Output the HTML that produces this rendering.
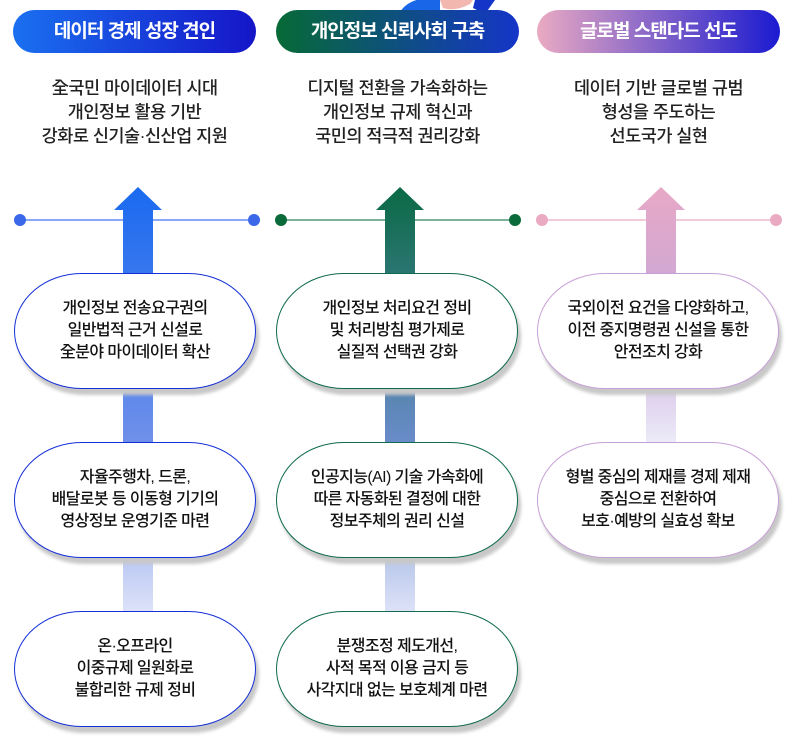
<!DOCTYPE html>
<html><head><meta charset="utf-8"><style>
body{margin:0;width:800px;height:741px;background:#fff;position:relative;overflow:hidden;font-family:"Liberation Sans","Noto Sans CJK KR",sans-serif;}
.a{position:absolute}
.hd{position:absolute;top:10px;height:43px;width:243px;border-radius:22px;color:#fff;font-size:19px;font-weight:bold;text-align:center;line-height:43px;letter-spacing:-1px}
.desc{position:absolute;top:76px;width:243px;text-align:center;font-size:17.5px;font-weight:500;line-height:24px;color:#222;letter-spacing:-0.5px}
.pill{position:absolute;width:240px;height:114px;border-radius:70px/60px;background:#fff;display:flex;align-items:center;justify-content:center;text-align:center;font-size:16px;font-weight:500;line-height:22px;color:#111;box-shadow:3px 6px 3px #c8c8c8;letter-spacing:-0.6px}
.line{position:absolute;top:219px;height:2px}
.dot{position:absolute;top:214px;width:12px;height:12px;border-radius:50%}
</style></head><body>
<svg class="a" style="left:395px;top:0" width="105" height="14">
<path d="M5 12 Q15 -4 45 -2 L45 10 Z" fill="#1a66e8"/>
<path d="M45 0 L48 8 Q60 12 75 4 L78 0 Z" fill="#f2b8b0"/>
<path d="M80 0 L100 0 L90 14 L78 8 Z" fill="#1535c8"/>
</svg>

<div class="hd" style="left:13px;background:linear-gradient(90deg,#1a70f0,#1515c8)">데이터 경제 성장 견인</div>
<div class="hd" style="left:276px;background:linear-gradient(90deg,#076a36,#1535c8)">개인정보 신뢰사회 구축</div>
<div class="hd" style="left:537px;background:linear-gradient(90deg,#eaaac2,#1a1ad0)">글로벌 스탠다드 선도</div>

<div class="desc" style="left:13px">全국민 마이데이터 시대<br>개인정보 활용 기반<br>강화로 신기술·신산업 지원</div>
<div class="desc" style="left:276px">디지털 전환을 가속화하는<br>개인정보 규제 혁신과<br>국민의 적극적 권리강화</div>
<div class="desc" style="left:537px">데이터 기반 글로벌 규범<br>형성을 주도하는<br>선도국가 실현</div>

<div class="line" style="left:20px;width:234px;background:#8aa8f8"></div>
<div class="dot" style="left:14px;background:#3b68e8"></div><div class="dot" style="left:248px;background:#3b68e8"></div>
<div class="line" style="left:281px;width:234px;background:#7fb09a"></div>
<div class="dot" style="left:275px;background:#0a6a3a"></div><div class="dot" style="left:509px;background:#0a6a3a"></div>
<div class="line" style="left:542px;width:234px;background:#f3cbd8"></div>
<div class="dot" style="left:536px;background:#eaaac2"></div><div class="dot" style="left:770px;background:#eaaac2"></div>

<svg class="a" style="left:0;top:0" width="800" height="741">
<defs>
<linearGradient id="g1" x1="0" y1="0" x2="0" y2="1"><stop offset="0" stop-color="#1a6af0"/><stop offset="0.6" stop-color="#6f90ea"/><stop offset="1" stop-color="#dde2f8"/></linearGradient>
<linearGradient id="g2" x1="0" y1="0" x2="0" y2="1"><stop offset="0" stop-color="#0a6a44"/><stop offset="0.6" stop-color="#6a8cca"/><stop offset="1" stop-color="#dde2f8"/></linearGradient>
<linearGradient id="g3" x1="0" y1="0" x2="0" y2="1"><stop offset="0" stop-color="#e8a8c6"/><stop offset="0.5" stop-color="#c8a8d8"/><stop offset="1" stop-color="#eceaf8"/></linearGradient>
</defs>
<path d="M138 187 L162 210 L153 210 L153 612 L123 612 L123 210 L114 210 Z" fill="url(#g1)"/>
<path d="M400 187 L424 210 L415 210 L415 612 L385 612 L385 210 L376 210 Z" fill="url(#g2)"/>
<path d="M661 187 L685 210 L676 210 L676 442 L646 442 L646 210 L637 210 Z" fill="url(#g3)"/>
</svg>

<div class="pill" style="left:14px;top:273px;border:1.5px solid #1530d8">개인정보 전송요구권의<br>일반법적 근거 신설로<br>全분야 마이데이터 확산</div>
<div class="pill" style="left:14px;top:442px;border:1.5px solid #1530d8">자율주행차, 드론,<br>배달로봇 등 이동형 기기의<br>영상정보 운영기준 마련</div>
<div class="pill" style="left:14px;top:611px;border:1.5px solid #1530d8">온·오프라인<br>이중규제 일원화로<br>불합리한 규제 정비</div>

<div class="pill" style="left:276px;top:273px;border:1.5px solid #0f6a50">개인정보 처리요건 정비<br>및 처리방침 평가제로<br>실질적 선택권 강화</div>
<div class="pill" style="left:276px;top:442px;border:1.5px solid #0f6a50">인공지능(AI) 기술 가속화에<br>따른 자동화된 결정에 대한<br>정보주체의 권리 신설</div>
<div class="pill" style="left:276px;top:611px;border:1.5px solid #0f6a50">분쟁조정 제도개선,<br>사적 목적 이용 금지 등<br>사각지대 없는 보호체계 마련</div>

<div class="pill" style="left:537px;top:273px;border:1.5px solid #c8a0d8">국외이전 요건을 다양화하고,<br>이전 중지명령권 신설을 통한<br>안전조치 강화</div>
<div class="pill" style="left:537px;top:442px;border:1.5px solid #c8a0d8">형벌 중심의 제재를 경제 제재<br>중심으로 전환하여<br>보호·예방의 실효성 확보</div>
</body></html>
